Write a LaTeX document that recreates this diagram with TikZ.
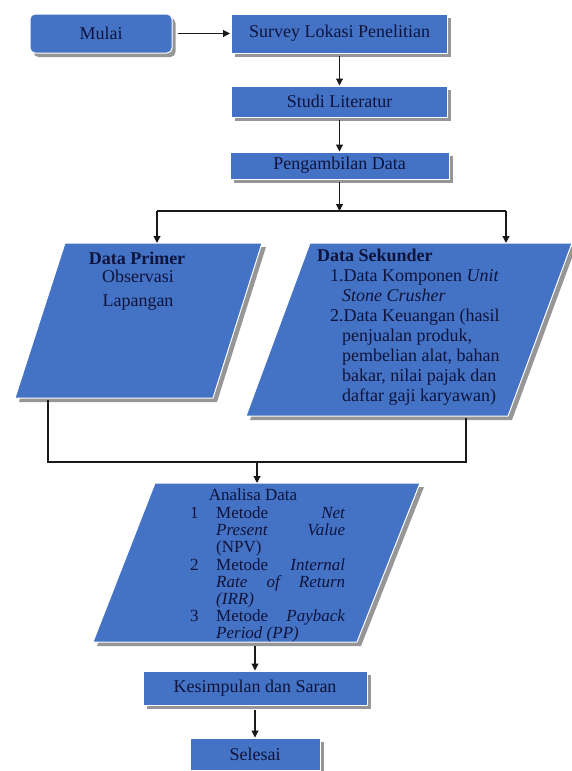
\documentclass[tikz,border=0pt]{standalone}
\usepackage{fontspec}
\setmainfont{Liberation Serif}
\usetikzlibrary{arrows.meta,shadows}
\definecolor{boxblue}{RGB}{68,114,196}
\definecolor{txt}{RGB}{15,20,60}
\definecolor{shad}{RGB}{150,150,150}
\begin{document}
\begin{tikzpicture}[x=1pt,y=-1pt,
  box/.style={rectangle, fill=boxblue, draw=white, line width=1pt, inner sep=0pt,
    text=txt, font=\fontsize{18}{20}\selectfont,
    drop shadow={shadow xshift=3.5pt, shadow yshift=-4pt, fill=shad, opacity=1}},
  conn/.style={line width=1.1pt, draw=black!90},
  arr/.style={conn, -{Triangle[length=7pt,width=7pt]}},
  para/.style={fill=boxblue, draw=white, line width=1pt},
  parashad/.style={fill=shad},
  label/.style={text=txt, inner sep=0pt, font=\fontsize{18}{20}\selectfont},
]
\useasboundingbox (0,0) rectangle (572,771);

% top boxes
\node[box, rounded corners=5pt, minimum width=142pt, minimum height=39pt] (mulai) at (101,33.5) {Mulai};
\node[box, minimum width=216pt, minimum height=39pt] (survey) at (339.5,33.5) {Survey Lokasi Penelitian};
\node[box, minimum width=216pt, minimum height=31pt] (studi) at (339.5,101.5) {Studi Literatur};
\node[box, minimum width=219pt, minimum height=27pt] (ambil) at (339.5,165.5) {Pengambilan Data};

\draw[arr, shorten <=5pt, shorten >=1pt] (mulai) -- (survey);
\draw[arr, shorten <=2pt] (survey.south) -- (studi.north);
\draw[arr, shorten <=2pt] (studi.south) -- (ambil.north);

% split
\coordinate (split) at (339.5,211);
\coordinate (pl) at (157,211);
\coordinate (pr) at (506,211);
\coordinate (primerT) at (157,243);
\coordinate (sekT) at (506,243);
\draw[arr, shorten <=2pt] (ambil.south) -- (split);
\draw[conn] (pl) -- (pr);
\draw[arr] (pl) -- (primerT);
\draw[arr] (pr) -- (sekT);

% Data Primer
\fill[parashad] (69,247) -- (266,247) -- (217,402) -- (19,402) -- cycle;
\filldraw[para] (65,243) -- (262,243) -- (213,398) -- (15,398) -- cycle;
\node[label, font=\fontsize{18}{20}\selectfont\bfseries] (primerhead) at (137,258) {Data Primer};
\node[label, align=center] (primertext) at (138,290) {Observasi\\[4pt]Lapangan};

% Data Sekunder
\fill[parashad] (314,247) -- (576,247) -- (512,420) -- (250,420) -- cycle;
\filldraw[para] (310,243) -- (572,243) -- (508,416) -- (246,416) -- cycle;
\node[label, anchor=north west, align=left] (sektext) at (317,249) {%
\textbf{Data Sekunder}\\
\hspace*{13pt}1.Data Komponen \textit{Unit}\\
\hspace*{25pt}\textit{Stone Crusher}\\
\hspace*{13pt}2.Data Keuangan (hasil\\
\hspace*{25pt}penjualan produk,\\
\hspace*{25pt}pembelian alat, bahan\\
\hspace*{25pt}bakar, nilai pajak dan\\
\hspace*{25pt}daftar gaji karyawan)};

% join
\coordinate (primerB) at (48,400);
\coordinate (sekB) at (466,418);
\coordinate (jl) at (48,462);
\coordinate (jr) at (466,462);
\coordinate (jm) at (257,462);
\coordinate (analisaT) at (257,483);
\draw[conn] (primerB) -- (jl) -- (jr) -- (sekB);
\draw[arr] (jm) -- (analisaT);

% Analisa Data
\fill[parashad] (159,487) -- (424,487) -- (361,646) -- (97,646) -- cycle;
\filldraw[para] (155,483) -- (420,483) -- (357,642) -- (93,642) -- cycle;
\node[label, font=\fontsize{17}{17}\selectfont] (analisahead) at (253,495) {Analisa Data};
\node[label, anchor=north west, align=left, font=\fontsize{17}{17.2}\selectfont] (analisalist) at (190,506.5) {%
\makebox[26pt][l]{1}\makebox[129pt][s]{Metode \textit{Net}}\\
\hspace*{26pt}\makebox[129pt][s]{\textit{Present Value}}\\
\hspace*{26pt}(NPV)\\
\makebox[26pt][l]{2}\makebox[129pt][s]{Metode \textit{Internal}}\\
\hspace*{26pt}\makebox[129pt][s]{\textit{Rate of Return}}\\
\hspace*{26pt}\textit{(IRR)}\\
\makebox[26pt][l]{3}\makebox[129pt][s]{Metode \textit{Payback}}\\
\hspace*{26pt}\textit{Period (PP)}};
\coordinate (analisaB) at (255,646);

% bottom boxes
\node[box, minimum width=224pt, minimum height=34pt] (simpul) at (255,688) {Kesimpulan dan Saran};
\node[box, minimum width=130pt, minimum height=32pt] (selesai) at (255,754) {Selesai};
\draw[arr] (analisaB) -- (simpul.north);
\draw[arr, shorten <=4pt] (simpul.south) -- (selesai.north);
\end{tikzpicture}
\end{document}
